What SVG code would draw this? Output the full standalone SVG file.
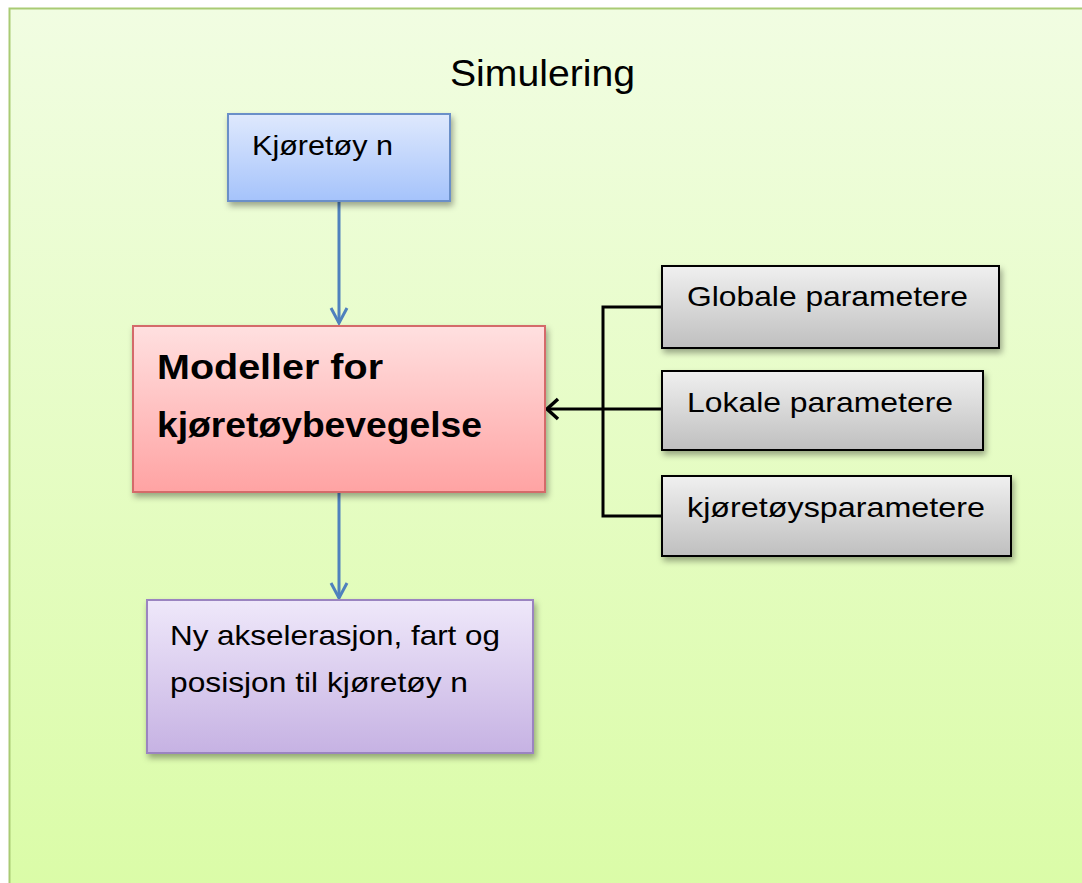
<svg xmlns="http://www.w3.org/2000/svg" width="1082" height="883" viewBox="0 0 1082 883">
<defs>
<linearGradient id="bg" x1="0" y1="0" x2="0" y2="1"><stop offset="0" stop-color="#f1fde2"/><stop offset="1" stop-color="#dafca6"/></linearGradient>
<linearGradient id="gBlue" x1="0" y1="0" x2="0" y2="1"><stop offset="0" stop-color="#dfe9fd"/><stop offset="1" stop-color="#a5c3fb"/></linearGradient>
<linearGradient id="gRed" x1="0" y1="0" x2="0" y2="1"><stop offset="0" stop-color="#ffe0e0"/><stop offset="1" stop-color="#ffa3a3"/></linearGradient>
<linearGradient id="gPurple" x1="0" y1="0" x2="0" y2="1"><stop offset="0" stop-color="#efe8fa"/><stop offset="1" stop-color="#c6b2e3"/></linearGradient>
<linearGradient id="gGray" x1="0" y1="0" x2="0" y2="1"><stop offset="0" stop-color="#f0f0f0"/><stop offset="1" stop-color="#bfbfbf"/></linearGradient>
<filter id="sh" x="-10%" y="-10%" width="130%" height="140%"><feDropShadow dx="2" dy="4" stdDeviation="3" flood-color="#000" flood-opacity="0.35"/></filter>
<marker id="aBlue" viewBox="0 0 20 20" refX="17" refY="10" markerWidth="20" markerHeight="20" markerUnits="userSpaceOnUse" orient="auto"><path d="M2,2 L17,10 L2,18" fill="none" stroke="#4f81bd" stroke-width="3"/></marker>
<marker id="aBlack" viewBox="0 0 24 24" refX="21" refY="12" markerWidth="24" markerHeight="24" markerUnits="userSpaceOnUse" orient="auto"><path d="M10,2 L21,12 L10,22" fill="none" stroke="#000" stroke-width="3.5"/></marker>
</defs>
<style>
.t{font-family:"Liberation Sans",Arial,sans-serif;fill:#000}
.lbl{font-size:28px}
.bold{font-size:35px;font-weight:bold}
</style>
<rect x="0" y="0" width="1082" height="883" fill="#ffffff"/>
<rect x="9.5" y="8.5" width="1090" height="900" fill="url(#bg)" stroke="#a9cb74" stroke-width="2"/>
<text class="t" x="450" y="86" font-size="36" textLength="185" lengthAdjust="spacingAndGlyphs">Simulering</text>
<g id="connectors">
<line x1="339" y1="201" x2="339" y2="323" stroke="#4f81bd" stroke-width="3" marker-end="url(#aBlue)"/>
<line x1="339" y1="492" x2="339" y2="598" stroke="#4f81bd" stroke-width="3" marker-end="url(#aBlue)"/>
<polyline points="662,307 603,307 603,516 662,516" fill="none" stroke="#000" stroke-width="3"/>
<line x1="662" y1="409" x2="547" y2="409" stroke="#000" stroke-width="3" marker-end="url(#aBlack)"/>
</g>
<g id="n-kjoretoy">
<rect x="228" y="114" width="222" height="87" fill="url(#gBlue)" stroke="#6a8fc8" stroke-width="2" filter="url(#sh)"/>
<text class="t lbl" x="252" y="155" textLength="141" lengthAdjust="spacingAndGlyphs">Kjøretøy n</text>
</g>
<g id="n-modeller">
<rect x="133" y="326" width="412" height="166" fill="url(#gRed)" stroke="#d46a6a" stroke-width="2" filter="url(#sh)"/>
<text class="t bold" x="157" y="379" textLength="226" lengthAdjust="spacingAndGlyphs">Modeller for</text>
<text class="t bold" x="157" y="437" textLength="325" lengthAdjust="spacingAndGlyphs">kjøretøybevegelse</text>
</g>
<g id="n-ny">
<rect x="147" y="600" width="386" height="153" fill="url(#gPurple)" stroke="#9b84c0" stroke-width="2" filter="url(#sh)"/>
<text class="t lbl" x="170" y="645" textLength="330" lengthAdjust="spacingAndGlyphs">Ny akselerasjon, fart og</text>
<text class="t lbl" x="170" y="692" textLength="298" lengthAdjust="spacingAndGlyphs">posisjon til kjøretøy n</text>
</g>
<g id="n-globale">
<rect x="662" y="266" width="337" height="82" fill="url(#gGray)" stroke="#000" stroke-width="2" filter="url(#sh)"/>
<text class="t lbl" x="687" y="306" textLength="281" lengthAdjust="spacingAndGlyphs">Globale parametere</text>
</g>
<g id="n-lokale">
<rect x="662" y="371" width="321" height="79" fill="url(#gGray)" stroke="#000" stroke-width="2" filter="url(#sh)"/>
<text class="t lbl" x="687" y="412" textLength="266" lengthAdjust="spacingAndGlyphs">Lokale parametere</text>
</g>
<g id="n-kjoretoysparametere">
<rect x="662" y="476" width="349" height="80" fill="url(#gGray)" stroke="#000" stroke-width="2" filter="url(#sh)"/>
<text class="t lbl" x="687" y="517" textLength="298" lengthAdjust="spacingAndGlyphs">kjøretøysparametere</text>
</g>
</svg>
